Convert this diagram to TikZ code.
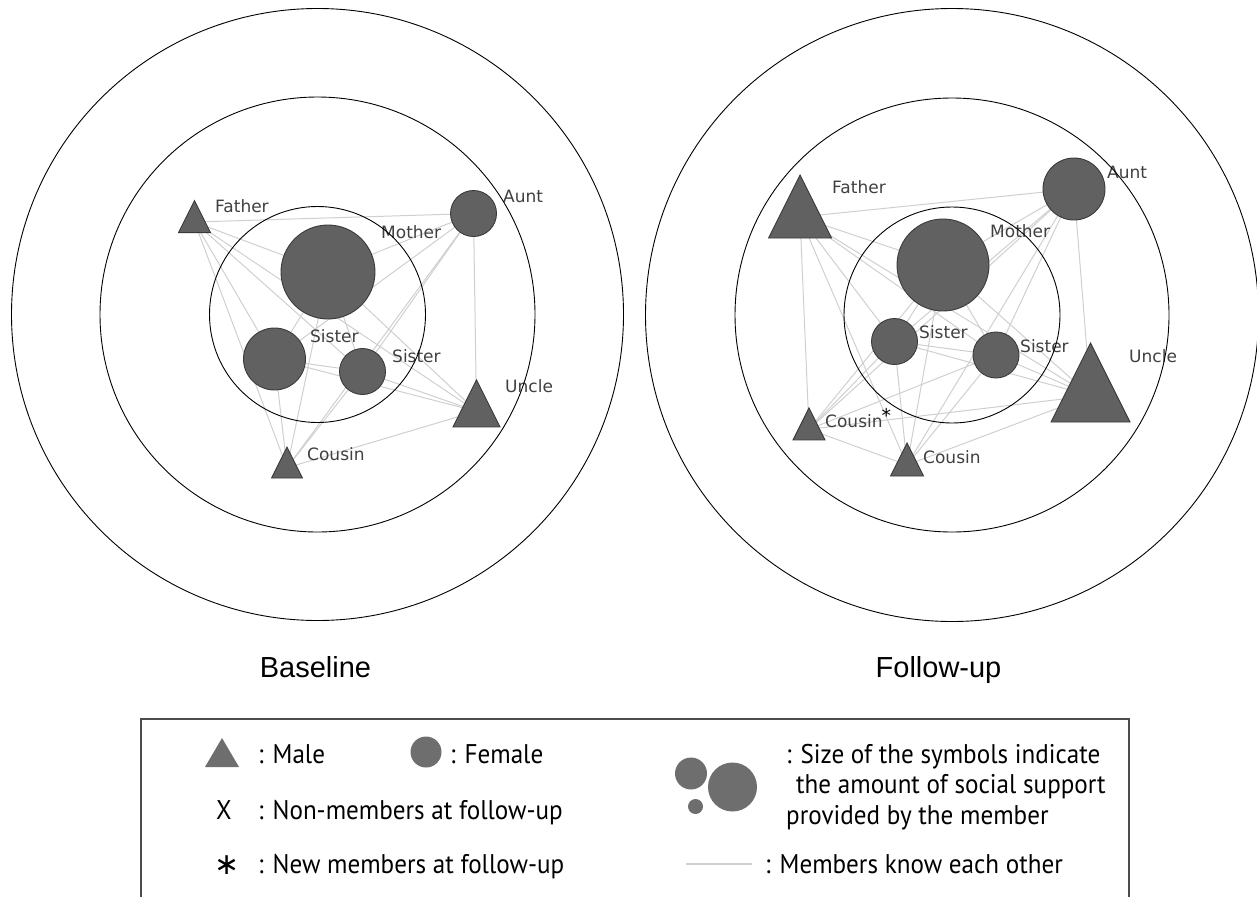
\documentclass[tikz,border=0pt]{standalone}
\usepackage{fontspec}
\setmainfont{DejaVu Sans}
\newfontfamily\labfont{DejaVu Sans}
\newfontfamily\legfont[FakeStretch=0.93]{PT Sans}
\newfontfamily\capfont{Liberation Sans}
\usetikzlibrary{calc}

\definecolor{nodefill}{HTML}{616161}
\definecolor{nodeline}{HTML}{3A3A3A}
\definecolor{tiecol}{HTML}{CFCFCF}
\definecolor{labtext}{HTML}{404040}
\definecolor{legfill}{HTML}{6E6E6E}

% a male member: triangle of width = height = #2 around centroid #1
\newcommand\drawmale[2]{\path[member] (#1) ++(0,{-0.6667*#2}) -- ++({0.5*#2},#2) -- ++({-#2},0) -- cycle;}
% a female member: circle of radius #2 around #1
\newcommand\drawfemale[2]{\path[member] (#1) circle (#2);}

\begin{document}
\begin{tikzpicture}[x=1pt,y=-1pt,
  ring/.style={draw=black, line width=0.9pt},
  tie/.style={draw=tiecol, line width=1pt},
  member/.style={fill=nodefill, draw=nodeline, line width=0.9pt},
  who/.style={font=\labfont\fontsize{17}{17}\selectfont, text=labtext, anchor=base west, inner sep=0pt},
  period/.style={font=\capfont\fontsize{29}{29}\selectfont, anchor=base, inner sep=0pt},
  leg/.style={font=\legfont\fontsize{27}{27}\selectfont, anchor=base west, inner sep=0pt},
  legsym/.style={fill=legfill}]

\useasboundingbox (0,0) rectangle (1257,897);
\clip (0,0) rectangle (1257,897);

% ---------- baseline network ----------
\coordinate (Lfa) at (194.5,222);
\coordinate (Lmo) at (328,272);
\coordinate (Lau) at (473.5,213.5);
\coordinate (Ls1) at (274.5,359);
\coordinate (Ls2) at (362.5,371.5);
\coordinate (Lun) at (476.5,411.3);
\coordinate (Lco) at (287,467.7);

\foreach \a/\b in {Lfa/Lmo, Lfa/Lau, Lfa/Ls1, Lfa/Ls2, Lfa/Lun, Lfa/Lco,
                   Lmo/Lau, Lmo/Ls1, Lmo/Ls2, Lmo/Lun, Lmo/Lco,
                   Lau/Ls1, Lau/Ls2, Lau/Lun, Lau/Lco,
                   Ls1/Ls2, Ls1/Lun, Ls1/Lco, Ls2/Lun, Ls2/Lco, Lun/Lco}
  \draw[tie] (\a) -- (\b);

\drawmale{Lfa}{32}
\drawfemale{Lmo}{47}
\drawfemale{Lau}{23}
\drawfemale{Ls1}{31}
\drawfemale{Ls2}{23}
\drawmale{Lun}{47}
\drawmale{Lco}{31}

\node[who] (tLfa) at (215,212.5) {Father};
\node[who] (tLmo) at (381,238) {Mother};
\node[who] (tLau) at (503,202) {Aunt};
\node[who] (tLs1) at (310,342) {Sister};
\node[who] (tLs2) at (392,362) {Sister};
\node[who] (tLun) at (505,392) {Uncle};
\node[who] (tLco) at (307,460) {Cousin};

% ---------- follow-up network ----------
\coordinate (Rfa) at (800,217);
\coordinate (Rmo) at (943,265);
\coordinate (Rau) at (1074,189);
\coordinate (Rs1) at (894.5,341.5);
\coordinate (Rs2) at (996,355);
\coordinate (Run) at (1090.5,395.7);
\coordinate (Rcn) at (809,429.3);
\coordinate (Rco) at (907,465);

\foreach \a/\b in {Rfa/Rmo, Rfa/Rau, Rfa/Rs1, Rfa/Rs2, Rfa/Run, Rfa/Rcn, Rfa/Rco,
                   Rmo/Rau, Rmo/Rs1, Rmo/Rs2, Rmo/Run, Rmo/Rcn, Rmo/Rco,
                   Rau/Rs1, Rau/Rs2, Rau/Run, Rau/Rcn, Rau/Rco,
                   Rs1/Rs2, Rs1/Run, Rs1/Rcn, Rs1/Rco,
                   Rs2/Run, Rs2/Rcn, Rs2/Rco,
                   Run/Rcn, Run/Rco, Rcn/Rco}
  \draw[tie] (\a) -- (\b);

\drawmale{Rfa}{63}
\drawfemale{Rmo}{46}
\drawfemale{Rau}{31}
\drawfemale{Rs1}{23}
\drawfemale{Rs2}{23}
\drawmale{Run}{79}
\drawmale{Rcn}{32}
\drawmale{Rco}{33}

\node[who] (tRfa) at (832,193) {Father};
\node[who] (tRmo) at (990,237) {Mother};
\node[who] (tRau) at (1107,178) {Aunt};
\node[who] (tRs1) at (919,338) {Sister};
\node[who] (tRs2) at (1020,352) {Sister};
\node[who] (tRun) at (1129,362) {Uncle};
\node[who] (tRcn) at (825,427) {Cousin\kern-1pt\textcolor{black}{\raisebox{5pt}{\fontsize{19}{19}\selectfont *}}};
\node[who] (tRco) at (923,463) {Cousin};

% ---------- concentric rings ----------
\draw[ring] (317.5,314.5) circle (306);
\draw[ring] (317.5,314.5) circle (217.5);
\draw[ring] (317.5,314.5) circle (108);
\draw[ring] (952,315) circle (306.5);
\draw[ring] (952,315) circle (217);
\draw[ring] (952,315) circle (108);

\node[period] (base) at (315.5,677) {Baseline};
\node[period] (follow) at (938.5,677) {Follow-up};

% ---------- legend ----------
\draw[draw=black!70, line width=1.1pt] (141,897) -- (141,719) -- (1129,719) -- (1129,897);

\path[legsym] (222,738) -- (239,767) -- (205,767) -- cycle;
\node[leg] (kmale) at (258,763) {: Male};
\path[legsym] (426,752) circle (15.5);
\node[leg] (kfem) at (450,763) {: Female};

\node[leg, anchor=base] (kx) at (224,819) {X};
\node[leg] (kxt) at (258,819) {: Non-members at follow-up};
\node[inner sep=0pt, anchor=base, font=\labfont\fontsize{30}{30}\selectfont] (kast) at (227,874) {∗};
\node[leg] (kastt) at (258,873) {: New members at follow-up};

\path[legsym] (691,773.5) circle (16);
\path[legsym] (732.5,787) circle (24.5);
\path[legsym] (695.5,806.5) circle (7.5);
\node[leg] (ks1) at (786,763) {: Size of the symbols indicate};
\node[leg] (ks2) at (796,793) {the amount of social support};
\node[leg] (ks3) at (786,824) {provided by the member};

\coordinate (tieA) at (686,864);
\coordinate (tieB) at (752,864);
\draw[draw=tiecol, line width=2.5pt] (tieA) -- (tieB);
\node[leg] (ktie) at (765,873) {: Members know each other};
\end{tikzpicture}
\end{document}
